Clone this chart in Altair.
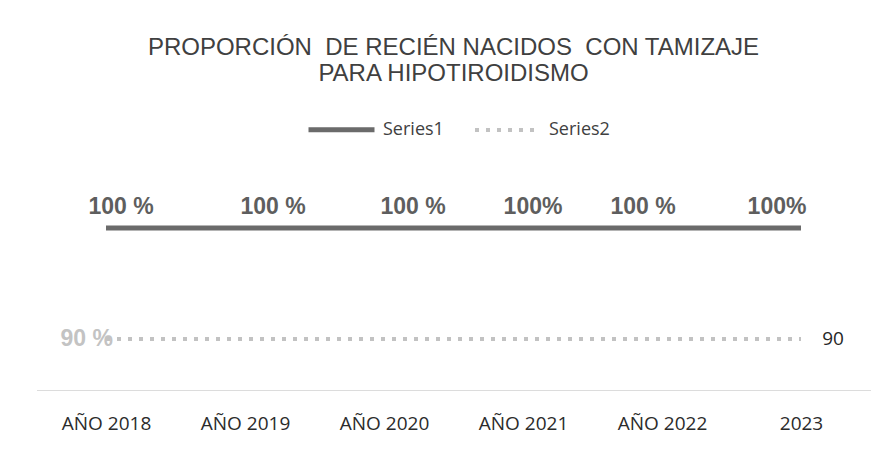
import altair as alt
import pandas as pd

years = ["AÑO 2018", "AÑO 2019", "AÑO 2020", "AÑO 2021", "AÑO 2022", "2023"]
series1 = [100, 100, 100, 100, 100, 100]
series2 = [90, 90, 90, 90, 90, 90]
labels1 = ["100 %", "100 %", "100 %", "100%", "100 %", "100%"]
series_names = ["Series1", "Series2"]
title_lines = ["PROPORCIÓN\u00a0 DE RECIÉN NACIDOS\u00a0 CON TAMIZAJE", "PARA HIPOTIROIDISMO"]

# style: horizontal nudges for the Series1 labels (pixels)
label1_dx = [15, 28, 29, 10, -19, -24]

rows = []
for i, y in enumerate(years):
    rows.append({"year": y, "series": "Series1", "value": series1[i], "label": labels1[i], "idx": i})
    rows.append({"year": y, "series": "Series2", "value": series2[i], "label": "", "idx": i})
df = pd.DataFrame(rows)

W, H = 834, 240
x = alt.X("year:N", sort=years, scale=alt.Scale(type="point", padding=0.5),
          axis=alt.Axis(title=None, orient="bottom", ticks=False, tickSize=0,
                        domainColor="#dcdcdc", domainWidth=1, labelAngle=0,
                        labelFont="Open Sans", labelFontSize=19, labelColor="#2b2b2b",
                        labelPadding=24, grid=False))
yscale = alt.Scale(domain=[85.41, 107.03], nice=False, zero=False)
y = alt.Y("value:Q", scale=yscale, axis=None)

lines = alt.Chart(df).mark_line(strokeCap="butt").encode(
    x=x, y=y,
    color=alt.Color("series:N", scale=alt.Scale(domain=series_names, range=["#6b6b6b", "#c2c2c2"]),
                    legend=alt.Legend(title=None)),
    strokeWidth=alt.StrokeWidth("series:N", scale=alt.Scale(domain=series_names, range=[5, 4]),
                                legend=alt.Legend(title=None)),
    strokeDash=alt.StrokeDash("series:N", scale=alt.Scale(domain=series_names, range=[[1, 0], [4, 7]]),
                              legend=alt.Legend(title=None)),
)

s1 = df[df.series == "Series1"]
s2 = df[df.series == "Series2"]

label_layers = []
for i in range(len(years)):
    label_layers.append(
        alt.Chart(s1[s1.idx == i]).mark_text(
            font="Liberation Sans", fontSize=23, fontWeight="bold", color="#5e5e5e",
            dy=-21, dx=label1_dx[i], baseline="middle", align="center"
        ).encode(x=x, y=y, text="label:N")
    )

left90 = alt.Chart(s2[s2.idx == 0]).transform_calculate(
    t="format(datum.value, '.0f') + ' %'"
).mark_text(
    font="Liberation Sans", fontSize=23, fontWeight="bold", color="#c3c3c3",
    dx=7, align="right", baseline="middle"
).encode(x=x, y=y, text="t:N")

right90 = alt.Chart(s2[s2.idx == len(years) - 1]).mark_text(
    font="Open Sans", fontSize=19, color="#262626",
    dx=32, align="center", baseline="middle"
).encode(x=x, y=y, text=alt.Text("value:Q", format=".0f"))

chart = alt.layer(lines, *label_layers, left90, right90).properties(
    width=W, height=H,
    title=alt.TitleParams(text=title_lines, font="Liberation Sans", fontSize=24, fontWeight="normal",
                          color="#404040", lineHeight=26, anchor="middle", offset=8),
    autosize=alt.AutoSizeParams(type="none"),
    padding={"left": 28.5, "top": 142, "right": 9.5, "bottom": 56},
).configure_view(stroke=None).configure_legend(
    orient="none", legendX=269.5, legendY=-56, direction="horizontal",
    symbolType="stroke", symbolSize=4356, labelFont="Open Sans", labelFontSize=18,
    labelColor="#404040", labelOffset=6, columnPadding=23, padding=0
)

chart.save("out.html", embed_options={"renderer": "svg", "actions": False})
